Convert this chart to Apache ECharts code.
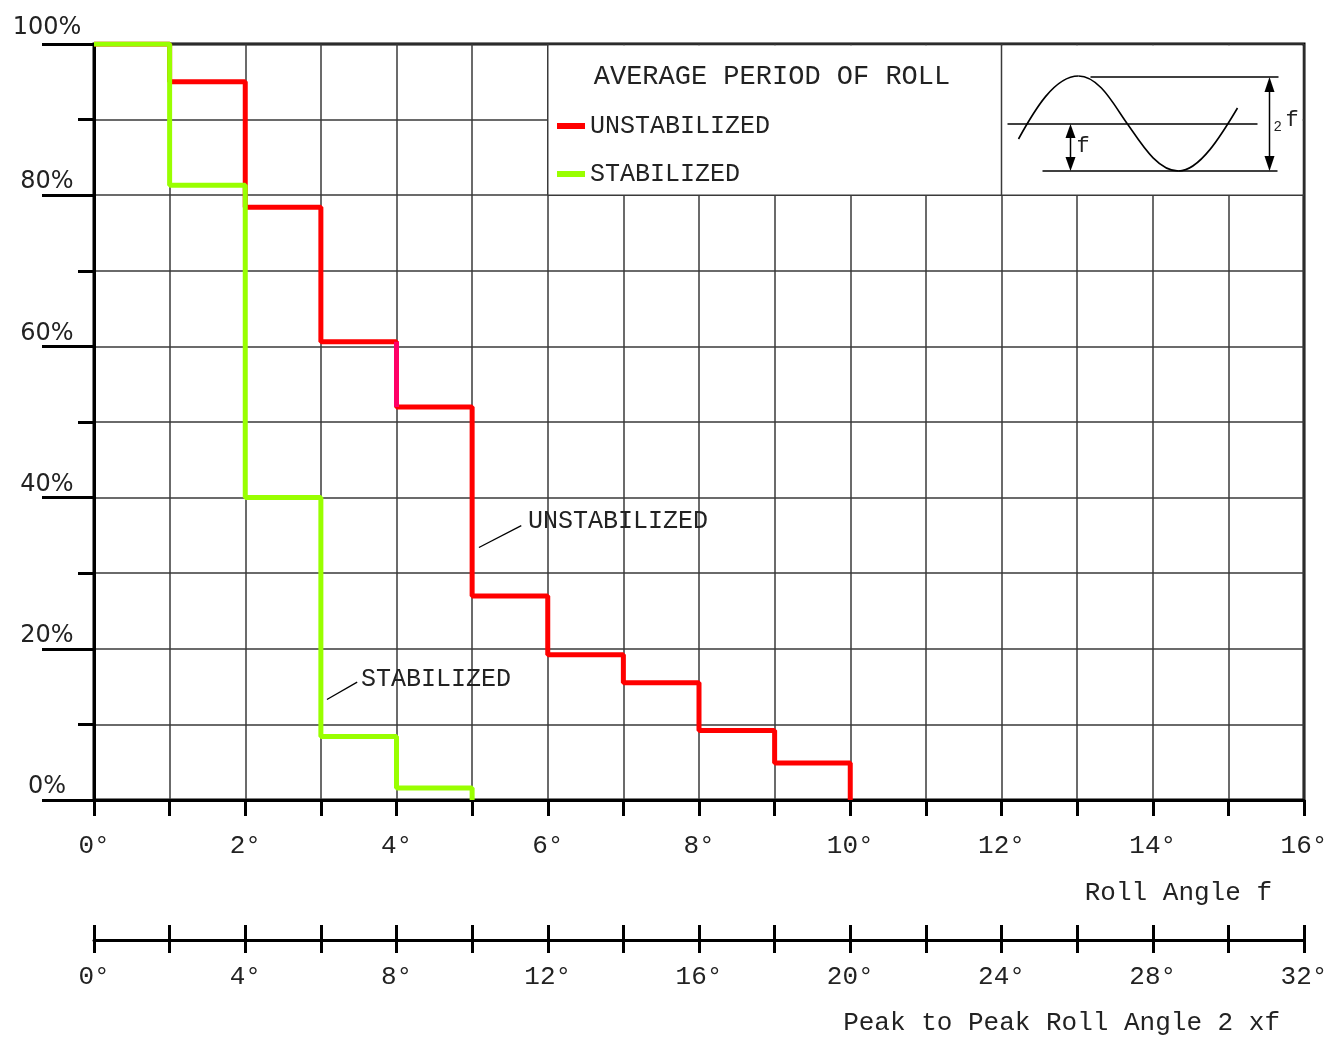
<!DOCTYPE html>
<html><head><meta charset="utf-8">
<script src="https://cdn.jsdelivr.net/npm/echarts@6/dist/echarts.min.js"></script>
<style>html,body{margin:0;padding:0;background:#fff}#c{width:1338px;height:1037px}</style>
</head><body><div id="c"></div>
<script>
// Roll angle bin edges (degrees)
const rollAngles = [0, 1, 2, 3, 4, 5, 6, 7, 8, 9, 10];
// Percentage of time roll exceeds the angle, value per 1-degree bin
const unstabilized = [100, 95.0, 78.4, 60.6, 52.0, 27.0, 19.2, 15.5, 9.2, 4.9];
const stabilized = [100, 81.3, 40.0, 8.4, 1.6];
const yTickLabels = ['0%', '20%', '40%', '60%', '80%', '100%'];
const legendTitle = 'AVERAGE PERIOD OF ROLL';
const seriesNames = ['UNSTABILIZED', 'STABILIZED'];
const xTitle = 'Roll Angle f';
const x2Title = 'Peak to Peak Roll Angle 2 xf';

function steps(vals) {
  const d = vals.map((v, i) => [rollAngles[i], v]);
  d.push([rollAngles[vals.length], 0]);
  return d;
}

const MONO = '"Liberation Mono", "Courier New", monospace';
const TXT = '#222';
const GRIDC = '#3a3a3a';

const chart = echarts.init(document.getElementById('c'), null, {renderer: 'canvas'});
const option = {
  animation: false,
  backgroundColor: '#fff',
  grid: {left: 94, right: 34, top: 44, bottom: 237, show: true, borderColor: '#000', borderWidth: 3, containLabel: false},
  legend: {
    data: seriesNames, orient: 'vertical', left: 552, top: 106, icon: 'rect',
    itemWidth: 28, itemHeight: 6, itemGap: 18, z: 10,
    textStyle: {fontFamily: MONO, fontSize: 25, color: TXT, lineHeight: 30, padding: [0, 0, 0, 0]}
  },
  xAxis: [
    {
      type: 'value', min: 0, max: 16, interval: 1,
      axisLine: {show: true, lineStyle: {color: '#000', width: 3}},
      axisTick: {show: true, length: 16, lineStyle: {color: '#000', width: 3}},
      axisLabel: {margin: 33, fontFamily: MONO, fontSize: 26, color: TXT,
        formatter: v => (v % 2 === 0 ? v + '°' : '')},
      splitLine: {show: true, lineStyle: {color: GRIDC, width: 1.5}}
    },
    {
      type: 'value', min: 0, max: 32, interval: 2, position: 'bottom', offset: 140,
      axisLine: {show: true, lineStyle: {color: '#000', width: 3}},
      axisTick: {show: true, length: 13, lineStyle: {color: '#000', width: 3}},
      axisLabel: {margin: 24, fontFamily: MONO, fontSize: 26, color: TXT,
        formatter: v => (v % 4 === 0 ? v + '°' : '')},
      splitLine: {show: false}
    },
    {
      type: 'value', min: 0, max: 32, interval: 2, position: 'bottom', offset: 140,
      axisLine: {show: false},
      axisTick: {show: true, inside: true, length: 15, lineStyle: {color: '#000', width: 3}},
      axisLabel: {show: false},
      splitLine: {show: false}
    }
  ],
  yAxis: {
    type: 'value', min: 0, max: 100, interval: 20,
    axisLine: {show: true, lineStyle: {color: '#000', width: 3}},
    axisTick: {show: true, length: 52, lineStyle: {color: '#000', width: 3}},
    minorTick: {show: true, splitNumber: 2, length: 16, lineStyle: {color: '#000', width: 3}},
    minorSplitLine: {show: true, lineStyle: {color: GRIDC, width: 1.5}},
    splitLine: {show: true, lineStyle: {color: GRIDC, width: 1.5}},
    axisLabel: {
      margin: 47, align: 'center', verticalAlign: 'bottom', lineHeight: 26,
      fontFamily: '"DejaVu Sans", sans-serif', fontSize: 24, color: TXT,
      showMinLabel: true, showMaxLabel: true,
      formatter: v => (v === 100 ? '{t|' + yTickLabels[5] + '}' : yTickLabels[Math.round(v / 20)]),
      rich: {t: {fontFamily: '"DejaVu Sans", sans-serif', fontSize: 24, color: TXT, lineHeight: 26, padding: [0, 0, 7, 0]}}
    }
  },
  series: [
    {
      name: seriesNames[0], type: 'line', step: 'end', data: steps(unstabilized),
      xAxisIndex: 0, yAxisIndex: 0, symbol: 'none', z: 3,
      lineStyle: {color: '#ff0000', width: 5}, itemStyle: {color: '#ff0000'}
    },
    {
      name: 'unstab-seg', type: 'line', data: [[rollAngles[4], unstabilized[3]], [rollAngles[4], unstabilized[4]]],
      xAxisIndex: 0, yAxisIndex: 0, symbol: 'none', z: 3,
      lineStyle: {color: '#ff0066', width: 5}, itemStyle: {color: '#ff0066'}
    },
    {
      name: seriesNames[1], type: 'line', step: 'end', data: steps(stabilized),
      xAxisIndex: 0, yAxisIndex: 0, symbol: 'none', z: 4,
      lineStyle: {color: '#99ff00', width: 5}, itemStyle: {color: '#99ff00'}
    }
  ]
};
chart.setOption(option);

function px(x, y) { return chart.convertToPixel({xAxisIndex: 0, yAxisIndex: 0}, [x, y]); }

const boxTL = px(6, 100), boxBR = px(16, 80), div = px(12, 100);
const O = div; // inset origin
const corner = px(16, 0);
const g = [];
// legend box background covering grid
g.push({type: 'rect', z: 1, shape: {x: boxTL[0], y: boxTL[1] + 1.5, width: boxBR[0] - boxTL[0] - 1.5, height: boxBR[1] - boxTL[1] - 1.5}, style: {fill: '#fff'}});
g.push({type: 'line', z: 2, shape: {x1: boxTL[0], y1: boxTL[1], x2: boxTL[0], y2: boxBR[1]}, style: {stroke: GRIDC, lineWidth: 1.5}});
g.push({type: 'line', z: 2, shape: {x1: boxTL[0], y1: boxBR[1], x2: boxBR[0], y2: boxBR[1]}, style: {stroke: GRIDC, lineWidth: 1.5}});
g.push({type: 'line', z: 2, shape: {x1: div[0], y1: boxTL[1], x2: div[0], y2: boxBR[1]}, style: {stroke: GRIDC, lineWidth: 1.5}});
// legend title
g.push({type: 'text', z: 5, x: boxTL[0] + 46, y: boxTL[1] + 33, style: {text: legendTitle, font: '27px ' + MONO, fill: TXT, verticalAlign: 'middle'}});
// inset sine diagram (illustration)
const B = (p0, c1, c2, p1) => g.push({type: 'bezierCurve', z: 5, shape: {
  x1: O[0] + p0[0], y1: O[1] + p0[1], cpx1: O[0] + c1[0], cpy1: O[1] + c1[1],
  cpx2: O[0] + c2[0], cpy2: O[1] + c2[1], x2: O[0] + p1[0], y2: O[1] + p1[1]},
  style: {fill: null, stroke: '#000', lineWidth: 1.6}});
B([17, 95], [33, 66], [53, 32], [77, 32]);
B([77, 32], [98, 32], [113, 62], [126, 80]);
B([126, 80], [140, 100], [156, 127], [177, 127]);
B([177, 127], [198, 127], [220, 91], [236, 64]);
const L = (x1, y1, x2, y2, w) => g.push({type: 'line', z: 5, shape: {x1: O[0] + x1, y1: O[1] + y1, x2: O[0] + x2, y2: O[1] + y2}, style: {stroke: '#000', lineWidth: w || 1.3}});
L(89, 33, 277, 33); L(6, 80, 256, 80); L(41, 127, 276, 127);
L(268, 45, 268, 115, 1.5); L(69, 90, 69, 115, 1.5);
const tri = pts => g.push({type: 'polygon', z: 5, shape: {points: pts.map(p => [O[0] + p[0], O[1] + p[1]])}, style: {fill: '#000'}});
tri([[268, 33], [263, 48], [273, 48]]); tri([[268, 127], [263, 112], [273, 112]]);
tri([[69, 80], [64, 94], [74, 94]]); tri([[69, 127], [64, 113], [74, 113]]);
g.push({type: 'text', z: 5, x: O[0] + 75, y: O[1] + 102, style: {text: 'f', font: '22px ' + MONO, fill: TXT, verticalAlign: 'middle'}});
g.push({type: 'text', z: 5, x: O[0] + 272, y: O[1] + 83, style: {text: '2', font: '14px ' + MONO, fill: TXT, verticalAlign: 'middle'}});
g.push({type: 'text', z: 5, x: O[0] + 284, y: O[1] + 76, style: {text: 'f', font: '22px ' + MONO, fill: TXT, verticalAlign: 'middle'}});
// annotations
const a1 = px(5.74, 36.8), a2 = px(3.53, 15.9);
g.push({type: 'text', z: 5, x: a1[0], y: a1[1], style: {text: seriesNames[0], font: '25px ' + MONO, fill: TXT, verticalAlign: 'middle'}});
g.push({type: 'text', z: 5, x: a2[0], y: a2[1], style: {text: seriesNames[1], font: '25px ' + MONO, fill: TXT, verticalAlign: 'middle'}});
const l1a = px(5.09, 33.4), l1b = px(5.65, 36.3), l2a = px(3.08, 13.3), l2b = px(3.48, 15.6);
g.push({type: 'line', z: 5, shape: {x1: l1a[0], y1: l1a[1], x2: l1b[0], y2: l1b[1]}, style: {stroke: '#000', lineWidth: 1.3}});
g.push({type: 'line', z: 5, shape: {x1: l2a[0], y1: l2a[1], x2: l2b[0], y2: l2b[1]}, style: {stroke: '#000', lineWidth: 1.3}});
// axis titles
g.push({type: 'text', z: 5, x: corner[0] - 32, y: corner[1] + 93, style: {text: xTitle, font: '26px ' + MONO, fill: TXT, align: 'right', verticalAlign: 'middle'}});
g.push({type: 'text', z: 5, x: corner[0] - 24, y: corner[1] + 223, style: {text: x2Title, font: '26px ' + MONO, fill: TXT, align: 'right', verticalAlign: 'middle'}});
chart.setOption({graphic: {elements: g}});
</script></body></html>
